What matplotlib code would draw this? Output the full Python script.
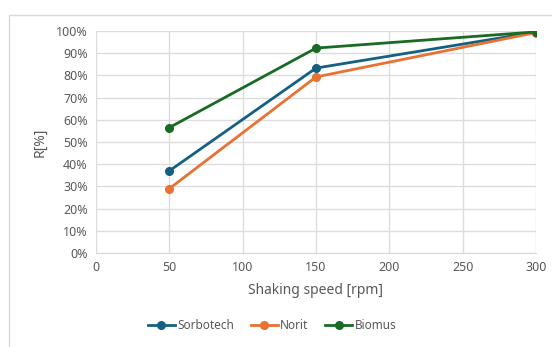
import numpy as np
import matplotlib.pyplot as plt
from matplotlib.patches import Rectangle
from matplotlib.ticker import PercentFormatter

plt.rcParams['font.family'] = ['Noto Sans', 'DejaVu Sans']

speed = [50, 150, 300]
sorbotech = [37.0, 83.3, 99.5]
norit = [29.0, 79.3, 99.3]
biomus = [56.5, 92.3, 99.6]

x_ticks = np.arange(0, 301, 50)
y_ticks = np.arange(0, 101, 10)

series = [
    ("Sorbotech", sorbotech, "#156082"),
    ("Norit", norit, "#E97132"),
    ("Biomus", biomus, "#196B24"),
]

fig = plt.figure(figsize=(5.52, 3.47), dpi=100)

# chart area border
fig.patches.append(Rectangle((9 / 552, -0.1), 1.2, 1 - 15 / 347 + 0.1,
                             transform=fig.transFigure, fill=False,
                             edgecolor="#D9D9D9", linewidth=1))

ax = fig.add_axes([96 / 552, 1 - 253 / 347, 440 / 552, 222 / 347])

for name, vals, col in series:
    ax.plot(speed, vals, color=col, lw=2.0, marker="o", markersize=5.5,
            label=name, zorder=3)

ax.set_xlim(0, 300)
ax.set_ylim(0, 100)
ax.set_xticks(x_ticks)
ax.set_yticks(y_ticks)
ax.yaxis.set_major_formatter(PercentFormatter(decimals=0))
ax.grid(True, color="#DDDDDD", lw=1)
ax.set_axisbelow(True)
for s in ["top", "right", "left"]:
    ax.spines[s].set_visible(False)
ax.spines["bottom"].set_color("#D9D9D9")
ax.tick_params(length=0, labelsize=9, colors="#595959", pad=6)

ax.set_xlabel("Shaking speed [rpm]", fontsize=10, color="#595959", labelpad=6)
ax.set_ylabel("R[%]", fontsize=10, color="#595959", labelpad=6)

ax.legend(loc="upper center", bbox_to_anchor=(0.40, -0.25), ncol=3,
          frameon=False, fontsize=8.5, labelcolor="#595959",
          handlelength=2.3, handletextpad=0.2, columnspacing=1.4)

fig.savefig("out.png", dpi=100)
